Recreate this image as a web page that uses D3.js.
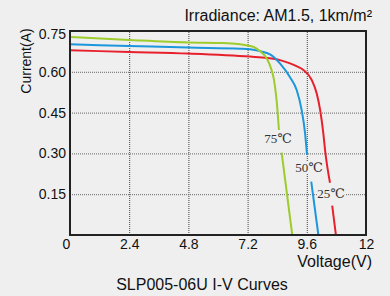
<!DOCTYPE html>
<html>
<head>
<meta charset="utf-8">
<script src="https://cdn.jsdelivr.net/npm/d3@7"></script>
<style>
  body { margin: 0; background: #efefef; }
  svg { display: block; font-family: "Liberation Sans", Arial, sans-serif; }
</style>
</head>
<body>
<svg width="390" height="296"></svg>
<script>
// I-V curves, [voltage, current]; null breaks the line where the label sits
const curve25 = [[0, 0.679], [2.4, 0.673], [4.8, 0.667], [7.3, 0.656], [8.0, 0.651], [8.51, 0.643],
  [8.92, 0.631], [9.2, 0.62], [9.46, 0.607], [9.8, 0.57], [10.0, 0.521], [10.14, 0.46],
  [10.27, 0.374], [10.34, 0.3125], [10.54, 0.192], null, [10.63, 0.108], [10.78, 0]];
const curve50 = [[0, 0.701], [2.4, 0.695], [4.8, 0.689], [6.9, 0.685], [7.3, 0.683], [7.7, 0.676],
  [8.11, 0.664], [8.51, 0.631], [8.92, 0.58], [9.19, 0.533], [9.39, 0.46], [9.53, 0.374],
  [9.61, 0.294], null, [9.78, 0.196], [10.07, 0]];
const curve75 = [[0, 0.728], [2.4, 0.717], [4.8, 0.708], [6.2, 0.706], [6.9, 0.701], [7.43, 0.692],
  [7.7, 0.676], [7.97, 0.65], [8.17, 0.607], [8.27, 0.57], [8.41, 0.46], [8.47, 0.386],
  null, [8.58, 0.303], [9.01, 0]];

const seriesNames = ["25℃", "50℃", "75℃"];
const seriesColors = ["#e8202c", "#1c96dc", "#9dcc2c"];
const labelAnchors = [[10.58, 0.135], [9.69, 0.233], [8.43, 0.337]];

const xTicks = [0, 2.4, 4.8, 7.2, 9.6, 12];
const yTicks = [0.15, 0.30, 0.45, 0.60, 0.75];

const svg = d3.select("svg");
const plotLeft = 70, plotRight = 366, plotTop = 31, plotBottom = 235;

const x = d3.scaleLinear().domain([0, 12]).range([plotLeft, plotRight]);
const y = d3.scaleLinear().domain([0, 0.75]).range([plotBottom, plotTop]);

// grid
svg.append("g")
  .attr("transform", `translate(0,${plotBottom})`)
  .call(d3.axisBottom(x).tickValues(xTicks.slice(1, -1)).tickSize(-(plotBottom - plotTop)).tickFormat(""))
  .call(g => g.select(".domain").remove())
  .selectAll("line").attr("stroke", "#444").attr("stroke-dasharray", "1,1");
svg.append("g")
  .attr("transform", `translate(${plotLeft},0)`)
  .call(d3.axisLeft(y).tickValues(yTicks.slice(0, -1)).tickSize(-(plotRight - plotLeft)).tickFormat(""))
  .call(g => g.select(".domain").remove())
  .selectAll("line").attr("stroke", "#666").attr("stroke-dasharray", "1,1");

// curves
const line = d3.line()
  .defined(d => d !== null)
  .x(d => x(d[0]))
  .y(d => y(d[1]))
  .curve(d3.curveMonotoneX);

[curve25, curve50, curve75].forEach((c, i) => {
  svg.append("path")
    .attr("d", line(c))
    .attr("fill", "none")
    .attr("stroke", seriesColors[i])
    .attr("stroke-width", 2);
});

// curve labels
seriesNames.forEach((name, i) => {
  const g = svg.append("g");
  const t = g.append("text")
    .attr("x", x(labelAnchors[i][0]))
    .attr("y", y(labelAnchors[i][1]))
    .attr("text-anchor", "middle")
    .attr("font-family", "'Liberation Serif', 'DejaVu Serif', serif")
    .attr("font-size", 13)
    .attr("fill", "#333")
    .text(name);
  const b = t.node().getBBox();
  g.insert("rect", "text")
    .attr("x", b.x).attr("y", b.y + 2).attr("width", b.width).attr("height", b.height - 3)
    .attr("fill", "#efefef");
});

// frame
svg.append("rect")
  .attr("x", plotLeft).attr("y", plotTop)
  .attr("width", plotRight - plotLeft).attr("height", plotBottom - plotTop)
  .attr("fill", "none").attr("stroke", "#222").attr("stroke-width", 2);

// tick labels
svg.append("g")
  .attr("transform", `translate(0,${plotBottom})`)
  .call(d3.axisBottom(x).tickValues(xTicks).tickSize(0).tickPadding(4).tickFormat(d => d))
  .call(g => g.select(".domain").remove())
  .selectAll("text").attr("font-size", 14).attr("fill", "#111")
  .attr("font-family", "'Liberation Sans', Arial, sans-serif")
  .attr("dx", d => d === 0 ? -4 : 0);
svg.append("g")
  .attr("transform", `translate(${plotLeft},0)`)
  .call(d3.axisLeft(y).tickValues(yTicks).tickSize(0).tickPadding(4).tickFormat(d3.format(".2f")))
  .call(g => g.select(".domain").remove())
  .selectAll("text").attr("font-size", 14).attr("fill", "#111")
  .attr("font-family", "'Liberation Sans', Arial, sans-serif")
  .attr("dy", d => d === 0.75 ? "0.55em" : "0.32em");

// axis titles and captions
svg.append("text")
  .attr("transform", "translate(31,61) rotate(-90)")
  .attr("text-anchor", "middle").attr("font-size", 14).attr("fill", "#111")
  .text("Current(A)");
svg.append("text")
  .attr("x", 372).attr("y", 267)
  .attr("text-anchor", "end").attr("font-size", 16).attr("fill", "#111")
  .text("Voltage(V)");
svg.append("text")
  .attr("x", 372).attr("y", 21)
  .attr("text-anchor", "end").attr("font-size", 16).attr("fill", "#111")
  .text("Irradiance: AM1.5, 1km/m²");
svg.append("text")
  .attr("x", 202).attr("y", 290)
  .attr("text-anchor", "middle").attr("font-size", 16).attr("fill", "#111")
  .text("SLP005-06U I-V Curves");
</script>
</body>
</html>
